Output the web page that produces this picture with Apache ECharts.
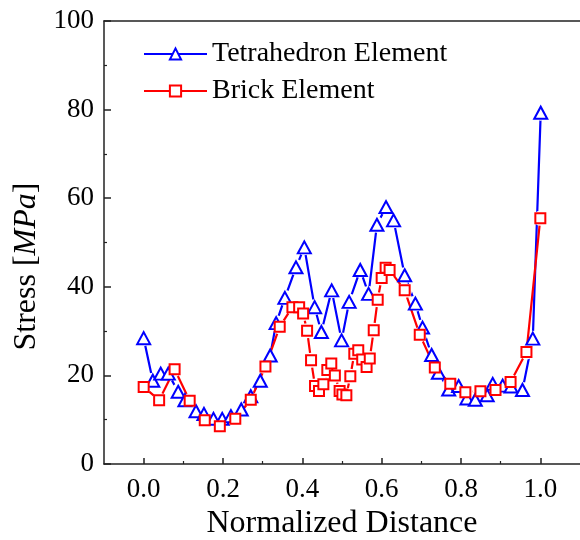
<!DOCTYPE html>
<html>
<head>
<meta charset="utf-8">
<script src="https://cdn.jsdelivr.net/npm/echarts@6/dist/echarts.min.js"></script>
<style>
  html, body { margin: 0; padding: 0; background: #fff; }
  #chart { width: 580px; height: 540px; }
</style>
</head>
<body>
<div id="chart"></div>
<script>
// ---- data ----
const tetraX = [0.000, 0.023, 0.043, 0.062, 0.087, 0.104, 0.132, 0.152, 0.176, 0.198, 0.220, 0.246, 0.270, 0.294, 0.319, 0.334, 0.356, 0.384, 0.405, 0.431, 0.448, 0.474, 0.499, 0.518, 0.546, 0.567, 0.588, 0.611, 0.630, 0.658, 0.685, 0.703, 0.726, 0.743, 0.769, 0.794, 0.815, 0.836, 0.866, 0.880, 0.905, 0.926, 0.955, 0.981, 1.001];
const tetraY = [28.4, 18.8, 20.4, 20.4, 16.3, 14.4, 11.9, 11.3, 10.2, 10.2, 10.8, 12.3, 15.3, 18.8, 24.5, 31.8, 37.5, 44.4, 48.9, 35.4, 29.8, 39.2, 27.9, 36.6, 43.8, 38.4, 54.0, 58.0, 55.0, 42.6, 36.2, 30.8, 24.6, 20.6, 16.8, 17.6, 14.8, 14.5, 15.5, 18.1, 17.7, 17.5, 16.7, 28.3, 79.3];
const brickX = [0.000, 0.039, 0.078, 0.116, 0.154, 0.192, 0.231, 0.270, 0.307, 0.343, 0.375, 0.392, 0.402, 0.412, 0.422, 0.432, 0.442, 0.453, 0.463, 0.473, 0.482, 0.494, 0.501, 0.511, 0.521, 0.531, 0.541, 0.551, 0.562, 0.570, 0.580, 0.590, 0.600, 0.610, 0.620, 0.658, 0.696, 0.734, 0.773, 0.811, 0.849, 0.887, 0.925, 0.965, 1.000];
const brickY = [17.4, 14.4, 21.4, 14.3, 9.9, 8.5, 10.2, 14.5, 22.0, 31.0, 35.4, 35.4, 34.0, 30.1, 23.4, 17.6, 16.5, 18.0, 21.2, 22.7, 20.0, 16.5, 15.7, 15.5, 19.8, 24.9, 25.7, 23.6, 21.9, 23.8, 30.2, 37.1, 42.0, 44.3, 43.8, 39.2, 29.2, 21.8, 18.1, 16.2, 16.4, 16.7, 18.5, 25.3, 55.5];
const seriesNames = ['Tetrahedron Element', 'Brick Element'];
const xTicks = [0.0, 0.2, 0.4, 0.6, 0.8, 1.0];
const xMinorTicks = [0.1, 0.3, 0.5, 0.7, 0.9];
const yTicks = [0, 20, 40, 60, 80, 100];

const tetra = tetraX.map((x, i) => [x, tetraY[i]]);
const brick = brickX.map((x, i) => [x, brickY[i]]);

const BLUE = '#0000ff', RED = '#ff0000';
const FONT = '"Liberation Serif", "Times New Roman", serif';
const axisColor = '#222';

const chart = echarts.init(document.getElementById('chart'), null, { renderer: 'canvas' });
chart.setOption({
  backgroundColor: '#fff',
  animation: false,
  grid: { left: 104, top: 21, right: 0, bottom: 76, containLabel: false, outerBoundsMode: 'none' },
  legend: {
    left: 138, top: 35, orient: 'vertical',
    itemWidth: 63, itemHeight: 14, itemGap: 9,
    textStyle: { fontFamily: FONT, fontSize: 28, color: '#000', lineHeight: 28 },
    lineStyle: { width: 2, opacity: 1 },
    data: seriesNames
  },
  xAxis: [{
    type: 'value', position: 'bottom', min: -0.1, max: 1.1, interval: 0.1,
    name: 'Normalized Distance', nameLocation: 'middle', nameGap: 44,
    nameTextStyle: { fontFamily: FONT, fontSize: 32, color: '#000' },
    axisLine: { show: true, onZero: false, lineStyle: { color: axisColor, width: 1.5 } },
    axisTick: { show: true, inside: true, length: 6, customValues: xTicks,
      lineStyle: { color: axisColor, width: 1.5 } },
    splitLine: { show: false },
    axisLabel: {
      margin: 12, fontFamily: FONT, fontSize: 27, color: '#000',
      customValues: xTicks,
      formatter: v => Number(v).toFixed(1)
    }
  }, {
    type: 'value', position: 'bottom', offset: 0, min: -0.1, max: 1.1, interval: 0.1,
    axisLine: { show: false },
    axisTick: { show: true, inside: true, length: 3, customValues: xMinorTicks,
      lineStyle: { color: axisColor, width: 1.2 } },
    axisLabel: { show: false }, splitLine: { show: false }
  }, {
    type: 'value', position: 'top', min: -0.1, max: 1.1, interval: 0.1,
    axisLine: { show: true, onZero: false, lineStyle: { color: axisColor, width: 1.5 } },
    axisTick: { show: false }, axisLabel: { show: false }, splitLine: { show: false }
  }],
  yAxis: [{
    type: 'value', min: 0, max: 100, interval: 20,
    name: 'Stress [{i|MPa}]', nameLocation: 'middle', nameGap: 58, nameRotate: 90,
    nameTextStyle: {
      fontFamily: FONT, fontSize: 32, color: '#000', padding: [0, 48, 0, 0],
      rich: { i: { fontFamily: FONT, fontSize: 32, fontStyle: 'italic', color: '#000' } }
    },
    axisLine: { show: true, onZero: false, lineStyle: { color: axisColor, width: 1.5 } },
    axisTick: { show: true, inside: true, length: 7, lineStyle: { color: axisColor, width: 1.5 } },
    minorTick: { show: true, splitNumber: 2, length: 3, lineStyle: { color: axisColor, width: 1.2 } },
    splitLine: { show: false },
    axisLabel: {
      margin: 10, fontFamily: FONT, fontSize: 27, color: '#000',
      formatter: v => (yTicks.indexOf(v) >= 0 ? String(v) : '')
    }
  }],
  series: [
    { type: 'line', data: tetra, symbol: 'none', silent: true, z: 1,
      lineStyle: { color: BLUE, width: 2.2 } },
    { type: 'scatter', data: tetra, symbol: 'circle', symbolSize: 16, silent: true, z: 2,
      itemStyle: { color: '#fff', opacity: 1 } },
    { type: 'line', data: brick, symbol: 'none', silent: true, z: 3,
      lineStyle: { color: RED, width: 2.2 } },
    { type: 'scatter', data: brick, symbol: 'circle', symbolSize: 15, silent: true, z: 4,
      itemStyle: { color: '#fff', opacity: 1 } },
    { name: seriesNames[0], type: 'line', data: tetra, z: 5,
      symbol: 'emptyTriangle', symbolSize: [13, 12], showSymbol: true,
      color: BLUE,
      lineStyle: { color: BLUE, width: 2, opacity: 0 },
      itemStyle: { color: BLUE, borderColor: BLUE, borderWidth: 1 } },
    { name: seriesNames[1], type: 'line', data: brick, z: 6,
      symbol: 'emptyRect', symbolSize: 10, showSymbol: true,
      color: RED,
      lineStyle: { color: RED, width: 2, opacity: 0 },
      itemStyle: { color: RED, borderColor: RED, borderWidth: 1.2 } }
  ]
});
</script>
</body>
</html>
